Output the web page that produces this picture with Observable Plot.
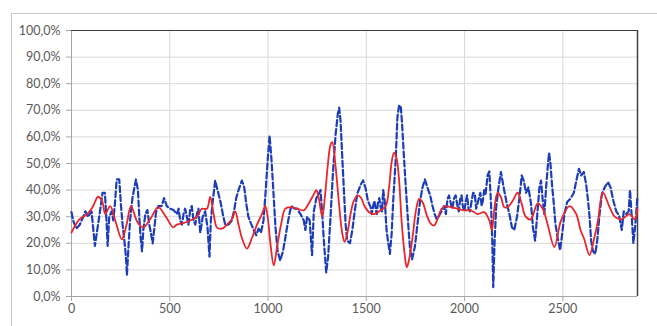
<!DOCTYPE html>
<html>
<head>
<meta charset="utf-8">
<script src="https://cdn.jsdelivr.net/npm/d3@7"></script>
<script src="https://cdn.jsdelivr.net/npm/@observablehq/plot@0.6"></script>
<style>
  html, body { margin: 0; padding: 0; background: #fff; }
  #wrap { position: relative; width: 657px; height: 326px; overflow: hidden; }
  #outer { position: absolute; left: 11px; top: 13px; width: 700px; height: 400px;
           border-left: 1px solid #c8c8c8; border-top: 1px solid #c8c8c8; box-sizing: border-box; }
  #chart { position: absolute; left: 0; top: 0; }
</style>
</head>
<body>
<div id="wrap"><div id="outer"></div><div id="chart"></div></div>
<script>
const xTicks = [0, 500, 1000, 1500, 2000, 2500];
const yTicks = [0, 10, 20, 30, 40, 50, 60, 70, 80, 90, 100];

// red (smooth) series: [x, percent]
const redSeries = [[0,24],[40,29],[80,31],[110,34],[135,37.5],[155,36],[172,31],[197,34],[225,28],[256,21.5],[280,27],[303,34],[335,28],[365,26],[400,29],[441,33.5],[480,30],[517,26],[536,27],[587,28],[638,30],[663,33],[689,33],[706,37.4],[723,31],[740,26],[765,25.5],[791,27],[816,29],[833,32],[850,27],[867,22],[893,18],[918,22],[944,27],[969,31],[986,34],[998,30],[1012,20],[1029,11.7],[1046,18.6],[1066,27],[1088,33],[1113,33.6],[1148,33],[1182,32.4],[1207,35],[1230,38],[1246,40],[1258,37],[1276,30],[1290,38],[1305,50],[1318,57],[1327,58],[1344,48.6],[1361,35],[1378,23.6],[1390,20.5],[1403,23.6],[1420,31],[1437,36],[1457,38],[1474,37],[1491,34],[1514,31.7],[1539,31],[1573,32.4],[1599,34],[1616,41],[1629,50.5],[1641,54],[1654,52],[1667,43.6],[1680,28],[1695,16],[1706,11],[1717,13.6],[1735,22],[1752,32],[1769,36.7],[1786,35.5],[1808,30.5],[1828,27.4],[1845,26.7],[1862,29],[1883,33],[1905,34],[1930,33.6],[1964,33],[1998,32.4],[2032,32.4],[2066,31],[2100,31.7],[2126,28.6],[2139,25],[2155,35],[2168,39],[2185,37.4],[2202,33.6],[2219,33.6],[2245,36],[2270,39],[2290,35],[2311,30],[2337,29],[2372,35],[2398,33],[2423,27],[2457,18.6],[2491,28.6],[2534,34],[2568,31],[2590,25],[2607,22],[2636,15.6],[2660,22],[2679,28.6],[2704,39],[2738,33.6],[2764,30],[2798,29],[2840,31],[2866,29],[2880,33]];

// blue (noisy, dashed) series: [x, percent]
const blueSeries = [[0,31.7],[8,28.6],[25,25.5],[42,27],[60,30],[70,32],[85,30],[102,32],[110,26],[119,19],[131,25],[145,32],[158,39],[170,39],[178,28.6],[184,19],[192,30],[204,32],[213,28.6],[221,35],[230,44],[243,44],[252,34],[260,27],[269,21],[277,15],[282,8],[289,17.5],[298,28.6],[310,37],[328,44],[338,40],[345,30],[352,22],[359,17],[366,25.5],[376,31],[386,32.5],[396,27],[405,23.5],[413,20],[422,26],[430,31.7],[442,34],[459,34],[471,37],[485,34],[502,33],[519,32.5],[536,31],[545,33],[553,28.6],[562,27],[570,31],[578,33],[587,30],[595,27],[604,32.5],[612,34],[621,28.6],[630,27],[638,31],[646,33],[655,24],[668,30],[680,32],[692,26],[702,15],[709,28.6],[719,36],[731,43.6],[743,40],[757,36],[770,31],[782,27],[799,27],[816,28.6],[828,32.5],[838,37],[850,40],[867,43.6],[879,41],[889,35],[900,30],[913,27.5],[927,25],[940,23],[952,25.5],[964,24],[977,28.6],[987,38.6],[998,51],[1008,60.5],[1018,51],[1028,38.6],[1038,26],[1049,17],[1062,13.5],[1076,17],[1088,22],[1100,27.5],[1113,32.5],[1120,34],[1135,33],[1148,33],[1165,31],[1182,28.6],[1190,25],[1199,30],[1212,28.6],[1224,15.5],[1233,32],[1246,37],[1258,38.6],[1267,40],[1276,31],[1284,21],[1296,9],[1306,15],[1318,30],[1330,46],[1344,61],[1355,68.6],[1362,71],[1369,66],[1378,52],[1386,40],[1395,27],[1403,21],[1417,20],[1429,25],[1441,32],[1454,38.6],[1471,42],[1484,43.6],[1497,40.5],[1508,36],[1522,33.6],[1528,31],[1535,34],[1541,36],[1548,33],[1553,31],[1559,35],[1566,37],[1573,33.6],[1580,32],[1586,40],[1595,35],[1603,25],[1612,20],[1620,16],[1629,23.6],[1637,36],[1650,52],[1658,67],[1667,72],[1676,71],[1682,65],[1692,52],[1702,40],[1713,27.5],[1723,17.5],[1733,14],[1747,18.6],[1760,27],[1774,36],[1786,41],[1798,44],[1811,41],[1825,38],[1837,34],[1848,31],[1859,29],[1871,30.5],[1883,32],[1896,34],[1905,31],[1913,36.6],[1921,38],[1930,35],[1938,33],[1947,37],[1955,38],[1964,34],[1971,32],[1978,37],[1985,38],[1991,34],[1999,32],[2007,36],[2013,38],[2020,33],[2028,32],[2036,36],[2044,39],[2052,38.6],[2059,33],[2066,35],[2073,37],[2080,39],[2087,34],[2093,36],[2100,40],[2107,38.6],[2117,45.5],[2126,47],[2134,36],[2141,21],[2146,3.5],[2153,21],[2161,33.6],[2171,40],[2185,46.8],[2199,41],[2212,36],[2228,31],[2241,26],[2253,25],[2267,30],[2279,37],[2291,45.5],[2301,43.6],[2313,39],[2325,41],[2338,35],[2348,26],[2359,21],[2369,30],[2381,41],[2389,43.6],[2398,36],[2406,31],[2415,41],[2423,48.6],[2430,54],[2437,50],[2445,42],[2454,35],[2462,27.5],[2474,22],[2486,17.4],[2497,23.6],[2508,31],[2522,35.5],[2539,36.8],[2556,39],[2569,43.6],[2582,48],[2593,45.5],[2607,46.8],[2619,42],[2627,37],[2636,30],[2644,21],[2654,17],[2665,16],[2675,21],[2687,31],[2699,38.6],[2713,41],[2730,43],[2743,41],[2757,36],[2772,32],[2786,30.5],[2800,25],[2810,32],[2823,31],[2835,32],[2842,40],[2849,32],[2859,20],[2869,27],[2879,37]];

const red = redSeries.map(([x, y]) => ({x, y}));
const blue = blueSeries.map(([x, y]) => ({x, y}));

const fmtY = d => d.toFixed(1).replace(".", ",") + "%";

const chart = Plot.plot({
  width: 657,
  height: 326,
  marginLeft: 71,
  marginRight: 20,
  marginTop: 30,
  marginBottom: 30,
  style: {fontFamily: "Lato, 'Liberation Sans', sans-serif", fontSize: "12.5px", color: "#595959", background: "transparent", overflow: "visible"},
  x: {domain: [0, 2880], ticks: xTicks, label: null},
  y: {domain: [0, 100], ticks: yTicks, label: null},
  marks: [
    Plot.gridX(xTicks, {stroke: "#d9d9d9", strokeOpacity: 1}),
    Plot.gridY(yTicks, {stroke: "#d9d9d9", strokeOpacity: 1}),
    Plot.axisX({ticks: xTicks, tickSize: 5, tickPadding: 3, stroke: "#a6a6a6", fill: "#595959", label: null, tickFormat: d => String(d)}),
    Plot.axisY({ticks: yTicks, tickSize: 5, tickPadding: 6, stroke: "#a6a6a6", fill: "#595959", label: null, tickFormat: fmtY}),
    Plot.ruleX([0], {stroke: "#a6a6a6"}),
    Plot.ruleY([0], {stroke: "#a6a6a6"}),
    Plot.ruleY([100], {stroke: "#404040", strokeWidth: 1.2}),
    Plot.ruleX([2880], {stroke: "#404040", strokeWidth: 1.5}),
    Plot.line(blue, {x: "x", y: "y", stroke: "#1c3cb8", strokeWidth: 2.2, strokeDasharray: "6,3"}),
    Plot.line(red, {x: "x", y: "y", stroke: "#e8262b", strokeWidth: 1.8, curve: "catmull-rom"})
  ]
});
document.getElementById("chart").appendChild(chart);
</script>
</body>
</html>
